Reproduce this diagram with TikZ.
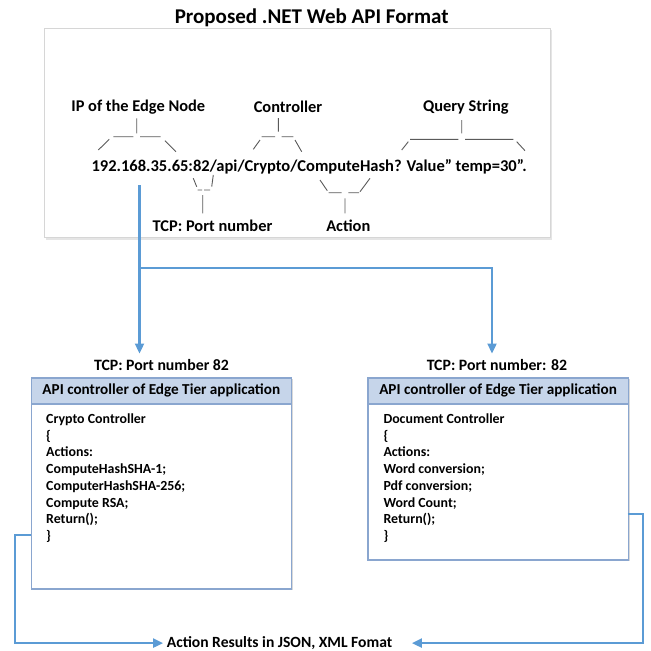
\documentclass[tikz,border=0pt]{standalone}
\usepackage{fontspec}
\setmainfont{Carlito}
\usetikzlibrary{arrows.meta,calc}
\definecolor{flowblue}{HTML}{5B9BD5}
\definecolor{hdrfill}{HTML}{C6D5EA}
\definecolor{boxline}{HTML}{8AA6CF}
\definecolor{bracegray}{HTML}{5A5A5A}
\definecolor{topline}{HTML}{D6D6D6}
\tikzset{
  lbl/.style={font=\bfseries\fontsize{16.4}{19}\selectfont, inner sep=0pt, text=black},
  brace/.style={draw=bracegray, line width=0.9pt},
  flow/.style={draw=flowblue, line width=2.3pt},
  flowarrow/.style={flow, -{Triangle[length=10pt,width=9pt]}},
  ctlbox/.style={draw=boxline, line width=1.2pt, fill=white, inner sep=0pt, anchor=north west},
  hdr/.style={draw=boxline, line width=1.2pt, fill=hdrfill, inner sep=0pt, anchor=north west,
    font=\bfseries\fontsize{15.2}{18}\selectfont},
  body/.style={font=\bfseries\fontsize{13.9}{16.67}\selectfont, align=left, inner sep=0pt, anchor=north west}
}
\begin{document}
\begin{tikzpicture}[x=1pt,y=-1pt]
\useasboundingbox (0,0) rectangle (651,651);
% top frame
\fill[black!10] (46,30.3) rectangle (552,239.5);
\node[draw=topline, fill=white, line width=0.8pt, inner sep=0pt, minimum width=506pt, minimum height=209pt, anchor=north west] (frame) at (44,28.3) {};
\node[lbl, font=\bfseries\fontsize{21}{24}\selectfont] (title) at (311.7,17.3) {Proposed .NET Web API Format};
% URL
\node[lbl, font=\bfseries\fontsize{16.5}{19}\selectfont] (url) at (309.2,166.5) {192.168.35.65:82/api/Crypto/ComputeHash? Value” temp=30”.};
\node[lbl] (ip) at (138.3,107.3) {IP of the Edge Node};
\node[lbl] (ctl) at (288,107.3) {Controller};
\node[lbl] (qs) at (465.8,107.3) {Query String};
\node[lbl] (port) at (212.5,226) {TCP: Port number};
\node[lbl] (act) at (348.3,226) {Action};
% braces above
\draw[brace] (98.3,150) -- (109.3,139.3) (113.3,136.7) -- (133.3,136.7) (136.7,118.3) -- (136.7,133.3) (140,136.7) -- (160.7,136.7) (165,140.7) -- (176,151.7);
\draw[brace] (253.3,149.3) -- (260,140) (261.7,136.7) -- (275,136.7) (278.3,118) -- (278.3,131.7) (281.7,136.7) -- (293.3,136.7) (295,140) -- (301.7,151.7);
\draw[brace] (401.7,150) -- (408.3,141.7) (410,139.3) -- (458.3,139.3) (461.7,120) -- (461.7,133.3) (465,139.3) -- (513.3,139.3) (516.7,141.7) -- (525,150.7);
% braces below
\draw[brace] (193.3,178.3) -- (196.7,186.7) (197.5,190) -- (202,190) (204,190) -- (210,190) (211.7,186.7) -- (213.3,175) (202.7,195) -- (202.7,213.3);
\draw[brace] (320,180) -- (327.3,190.7) (328.5,192.7) -- (341.7,192.7) (348.3,192.7) -- (359,192.7) (360,191.7) -- (370,178.3) (345,198.3) -- (345,213.3);
% controller boxes
\fill[black!15] (32.7,379.3) rectangle (292.7,590.3);
\node[ctlbox, minimum width=260pt, minimum height=211pt] (boxL) at (30.7,377.3) {};
\node[hdr, minimum width=260pt, minimum height=26pt] (hdrL) at (30.7,377.3) {API controller of Edge Tier application};
\node[body] (bodyL) at (46,413.7) {Crypto Controller\\\{\\Actions:\\ComputeHashSHA-1;\\ComputerHashSHA-256;\\Compute RSA;\\Return();\\\}};
\fill[black!15] (369.3,379.3) rectangle (629.7,561.3);
\node[ctlbox, minimum width=260.4pt, minimum height=182pt] (boxR) at (367.3,377.3) {};
\node[hdr, minimum width=260.4pt, minimum height=26pt] (hdrR) at (367.3,377.3) {API controller of Edge Tier application};
\node[body] (bodyR) at (383.3,413.7) {Document Controller\\\{\\Actions:\\Word conversion;\\Pdf conversion;\\Word Count;\\Return();\\\}};
% TCP labels
\node[lbl, font=\bfseries\fontsize{15.8}{18}\selectfont] (tcpL) at (161.5,365) {TCP: Port number 82};
\node[lbl, font=\bfseries\fontsize{15.8}{18}\selectfont] (tcpR) at (497,365) {TCP: Port number: 82};
\node[lbl, font=\bfseries\fontsize{15.6}{18}\selectfont, inner xsep=3.5pt, anchor=base] (res) at (279.5,647.5) {Action Results in JSON, XML Fomat};
% connectors
\coordinate (src) at (139.5,185);
\coordinate (split) at (139.5,268);
\coordinate (tipL) at (139.5,353.5);
\coordinate (tipR) at (492,353.5);
\coordinate (outL) at (30.7,535);
\coordinate (outR) at (627.7,514);
\draw[flow] (src) -- (split);
\draw[flowarrow] (split) -- (tipL);
\draw[flowarrow] (split) -| (tipR);
\draw[flowarrow] (outL) -- ++(-16,0) |- (res.west);
\draw[flowarrow, shorten >=16pt] (outR) -- ++(15,0) |- (res.east);
\end{tikzpicture}
\end{document}
